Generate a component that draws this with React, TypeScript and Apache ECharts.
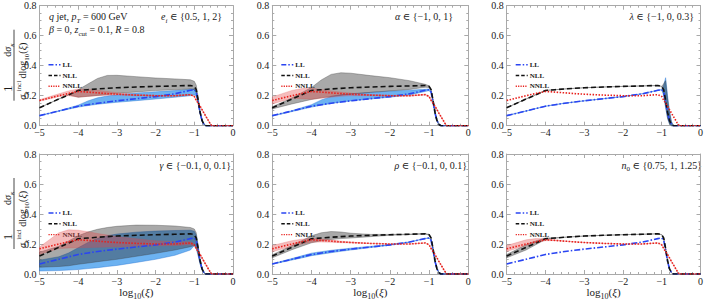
import React, { useEffect, useRef } from 'react';
import * as echarts from 'echarts';

// common abscissa grid, log10(xi)
const xs = [-5, -4.5, -4.25, -4, -3.75, -3.5, -3.25, -3, -2.5, -2, -1.5, -1.1, -1, -0.95, -0.9, -0.85, -0.8, -0.75, -0.7, -0.6, -0.55, 0];

// central curves
const LL = [0.067, 0.098, 0.114, 0.13, 0.14, 0.15, 0.158, 0.166, 0.18, 0.194, 0.213, 0.236, 0.24, 0.225, 0.16, 0.085, 0.035, 0.01, 0, 0, 0, 0];
const NLL = [0.12, 0.178, 0.206, 0.235, 0.24, 0.245, 0.249, 0.253, 0.258, 0.262, 0.265, 0.268, 0.262, 0.24, 0.17, 0.09, 0.035, 0.008, 0, 0, 0, 0];
const NNLL = [0.168, 0.2, 0.215, 0.228, 0.224, 0.219, 0.214, 0.21, 0.204, 0.2, 0.2, 0.207, 0.195, 0.17, 0.15, 0.13, 0.107, 0.084, 0.062, 0.018, 0, 0];

// panel 1: e_i
const blueLo1 = [0.066, 0.096, 0.11, 0.124, 0.134, 0.143, 0.15, 0.156, 0.167, 0.178, 0.19, 0.2, 0.205, 0.2, 0.15, 0.08, 0.03, 0.008, 0, 0, 0, 0];
const blueHi1 = [0.068, 0.1, 0.118, 0.137, 0.165, 0.186, 0.198, 0.206, 0.218, 0.226, 0.234, 0.243, 0.246, 0.23, 0.165, 0.09, 0.038, 0.012, 0, 0, 0, 0];
const grayLo1 = [0.12, 0.178, 0.206, 0.19, 0.196, 0.202, 0.208, 0.215, 0.225, 0.234, 0.24, 0.245, 0.24, 0.22, 0.15, 0.08, 0.03, 0.008, 0, 0, 0, 0];
const grayHi1 = [0.12, 0.178, 0.206, 0.24, 0.278, 0.315, 0.335, 0.336, 0.327, 0.318, 0.312, 0.306, 0.296, 0.27, 0.19, 0.1, 0.04, 0.01, 0, 0, 0, 0];
const redLo1 = [0.163, 0.194, 0.2, 0.19, 0.195, 0.2, 0.203, 0.205, 0.2, 0.197, 0.197, 0.204, 0.192, 0.167, 0.147, 0.127, 0.104, 0.081, 0.06, 0.016, 0, 0];
const redHi1 = [0.173, 0.213, 0.232, 0.245, 0.243, 0.237, 0.228, 0.22, 0.208, 0.203, 0.203, 0.21, 0.198, 0.173, 0.153, 0.133, 0.11, 0.087, 0.064, 0.02, 0, 0];

// panel 2: alpha
const blueLo2 = [0.064, 0.094, 0.109, 0.124, 0.137, 0.148, 0.157, 0.165, 0.178, 0.19, 0.205, 0.228, 0.234, 0.22, 0.155, 0.082, 0.033, 0.009, 0, 0, 0, 0];
const blueHi2 = [0.068, 0.1, 0.12, 0.14, 0.172, 0.195, 0.206, 0.213, 0.222, 0.23, 0.237, 0.243, 0.245, 0.23, 0.165, 0.088, 0.037, 0.011, 0, 0, 0, 0];
const grayLo2 = [0.112, 0.145, 0.16, 0.175, 0.186, 0.195, 0.203, 0.21, 0.222, 0.232, 0.242, 0.256, 0.255, 0.235, 0.165, 0.085, 0.033, 0.008, 0, 0, 0, 0];
const grayHi2 = [0.126, 0.185, 0.22, 0.255, 0.305, 0.342, 0.353, 0.35, 0.334, 0.32, 0.3, 0.276, 0.266, 0.245, 0.175, 0.095, 0.037, 0.009, 0, 0, 0, 0];
const redLo2 = [0.145, 0.183, 0.18, 0.176, 0.183, 0.19, 0.196, 0.2, 0.2, 0.197, 0.197, 0.204, 0.192, 0.167, 0.147, 0.127, 0.104, 0.081, 0.06, 0.016, 0, 0];
const redHi2 = [0.192, 0.235, 0.248, 0.25, 0.242, 0.232, 0.224, 0.218, 0.208, 0.203, 0.203, 0.21, 0.198, 0.173, 0.153, 0.133, 0.11, 0.087, 0.064, 0.02, 0, 0];

// panel 3: lambda
const blueLo3 = [0.067, 0.098, 0.114, 0.13, 0.14, 0.15, 0.158, 0.166, 0.18, 0.194, 0.213, 0.236, 0.24, 0.2, 0.12, 0.05, 0.012, 0, 0, 0, 0, 0];
const blueHi3 = [0.067, 0.098, 0.114, 0.13, 0.14, 0.15, 0.158, 0.166, 0.18, 0.194, 0.213, 0.236, 0.24, 0.27, 0.32, 0.2, 0.1, 0.03, 0, 0, 0, 0];
const grayLo3 = [0.12, 0.178, 0.206, 0.235, 0.24, 0.245, 0.249, 0.253, 0.258, 0.262, 0.265, 0.268, 0.262, 0.21, 0.13, 0.05, 0.012, 0, 0, 0, 0, 0];
const grayHi3 = [0.12, 0.178, 0.206, 0.235, 0.24, 0.245, 0.249, 0.253, 0.258, 0.262, 0.265, 0.268, 0.262, 0.28, 0.3, 0.18, 0.09, 0.025, 0, 0, 0, 0];

// panel 4: gamma
const blueLo4 = [0.02, 0.023, 0.026, 0.03, 0.036, 0.042, 0.05, 0.057, 0.077, 0.098, 0.125, 0.16, 0.19, 0.17, 0.12, 0.065, 0.025, 0.006, 0, 0, 0, 0];
const blueHi4 = [0.092, 0.115, 0.14, 0.175, 0.21, 0.238, 0.255, 0.266, 0.279, 0.286, 0.29, 0.292, 0.285, 0.26, 0.18, 0.095, 0.038, 0.01, 0, 0, 0, 0];
const grayLo4 = [0.045, 0.05, 0.055, 0.065, 0.073, 0.082, 0.09, 0.098, 0.118, 0.138, 0.16, 0.182, 0.19, 0.18, 0.13, 0.07, 0.028, 0.007, 0, 0, 0, 0];
const grayHi4 = [0.145, 0.185, 0.22, 0.255, 0.28, 0.298, 0.31, 0.318, 0.326, 0.325, 0.32, 0.31, 0.3, 0.275, 0.19, 0.1, 0.04, 0.01, 0, 0, 0, 0];
const redLo4 = [0.13, 0.17, 0.173, 0.175, 0.176, 0.178, 0.18, 0.182, 0.185, 0.187, 0.19, 0.195, 0.185, 0.165, 0.145, 0.125, 0.103, 0.08, 0.058, 0.015, 0, 0];
const redHi4 = [0.18, 0.275, 0.295, 0.292, 0.282, 0.27, 0.26, 0.25, 0.235, 0.222, 0.215, 0.215, 0.2, 0.175, 0.155, 0.135, 0.112, 0.088, 0.066, 0.021, 0, 0];

// panel 5: rho
const blueLo5 = [0.065, 0.093, 0.107, 0.122, 0.132, 0.142, 0.151, 0.16, 0.176, 0.192, 0.212, 0.236, 0.24, 0.225, 0.16, 0.085, 0.035, 0.01, 0, 0, 0, 0];
const blueHi5 = [0.069, 0.103, 0.121, 0.139, 0.149, 0.158, 0.165, 0.172, 0.184, 0.196, 0.214, 0.237, 0.241, 0.226, 0.161, 0.086, 0.036, 0.011, 0, 0, 0, 0];
const grayLo5 = [0.108, 0.162, 0.185, 0.208, 0.222, 0.23, 0.236, 0.24, 0.249, 0.258, 0.263, 0.266, 0.26, 0.24, 0.17, 0.09, 0.035, 0.008, 0, 0, 0, 0];
const grayHi5 = [0.128, 0.19, 0.222, 0.255, 0.275, 0.283, 0.28, 0.272, 0.264, 0.264, 0.266, 0.27, 0.264, 0.24, 0.17, 0.09, 0.035, 0.008, 0, 0, 0, 0];
const redLo5 = [0.148, 0.185, 0.2, 0.212, 0.213, 0.212, 0.209, 0.207, 0.203, 0.2, 0.2, 0.207, 0.195, 0.17, 0.15, 0.13, 0.107, 0.084, 0.062, 0.018, 0, 0];
const redHi5 = [0.19, 0.222, 0.232, 0.238, 0.234, 0.227, 0.219, 0.213, 0.205, 0.2, 0.2, 0.207, 0.195, 0.17, 0.15, 0.13, 0.107, 0.084, 0.062, 0.018, 0, 0];

// panel 6: n0
const grayLo6 = [0.108, 0.16, 0.195, 0.23, 0.239, 0.245, 0.249, 0.253, 0.258, 0.262, 0.265, 0.268, 0.262, 0.24, 0.17, 0.09, 0.035, 0.008, 0, 0, 0, 0];
const grayHi6 = [0.13, 0.195, 0.22, 0.24, 0.241, 0.245, 0.249, 0.253, 0.258, 0.262, 0.265, 0.268, 0.262, 0.24, 0.17, 0.09, 0.035, 0.008, 0, 0, 0, 0];
const redLo6 = [0.15, 0.19, 0.208, 0.222, 0.222, 0.219, 0.214, 0.21, 0.204, 0.2, 0.2, 0.207, 0.195, 0.17, 0.15, 0.13, 0.107, 0.084, 0.062, 0.018, 0, 0];
const redHi6 = [0.19, 0.228, 0.236, 0.235, 0.226, 0.219, 0.214, 0.21, 0.204, 0.2, 0.2, 0.207, 0.195, 0.17, 0.15, 0.13, 0.107, 0.084, 0.062, 0.018, 0, 0];

const xTicks = [-5, -4, -3, -2, -1, 0];
const yTicks = [0, 0.2, 0.4, 0.6, 0.8];
const legendNames = ['LL', 'NLL', 'NNLL'];

const FONT = '"Liberation Serif", "DejaVu Serif", serif';
const FRAME = '#a9a9a9';
const TXT = '#1a1a1a';
const BLUE = '#2a45f2';
const BLACK = '#111111';
const RED = '#e8201c';

const BAND_STYLE: Record<string, { fill: string; stroke: string }> = {
  blue: { fill: 'rgba(45,145,235,0.7)', stroke: 'rgba(30,110,210,0.8)' },
  gray: { fill: 'rgba(50,50,50,0.42)', stroke: 'rgba(60,60,60,0.7)' },
  red: { fill: 'rgba(228,70,70,0.36)', stroke: 'rgba(220,70,70,0.45)' },
};

const COL_LEFT = [39.5, 272.3, 506.7];
const COL_W = [193.5, 196, 196];
const ROW_TOP = [5.7, 154];
const ROW_H = 120;

type BandDef = [number[], number[], string];
const panelBands: BandDef[][] = [
  [[blueLo1, blueHi1, 'blue'], [grayLo1, grayHi1, 'gray'], [redLo1, redHi1, 'red']],
  [[blueLo2, blueHi2, 'blue'], [grayLo2, grayHi2, 'gray'], [redLo2, redHi2, 'red']],
  [[blueLo3, blueHi3, 'blue'], [grayLo3, grayHi3, 'gray']],
  [[blueLo4, blueHi4, 'blue'], [grayLo4, grayHi4, 'gray'], [redLo4, redHi4, 'red']],
  [[blueLo5, blueHi5, 'blue'], [grayLo5, grayHi5, 'gray'], [redLo5, redHi5, 'red']],
  [[grayLo6, grayHi6, 'gray'], [redLo6, redHi6, 'red']],
];

const panelLabels = [
  { text: '{i|e}{si|i} ∈ {0.5, 1, 2}', x: 222, y: 16.7 },
  { text: '{i|α} ∈ {−1, 0, 1}', x: 453, y: 16.7 },
  { text: '{i|λ} ∈ {−1, 0, 0.3}', x: 694, y: 16.7 },
  { text: '{i|γ} ∈ {−0.1, 0, 0.1}', x: 231, y: 165 },
  { text: '{i|ρ} ∈ {−0.1, 0, 0.1}', x: 467, y: 165 },
  { text: '{i|n}{s|0} ∈ {0.75, 1, 1.25}', x: 702, y: 165 },
];

const mkRich = (size: number) => {
  const sub = Math.round(size * 0.7);
  const base = { fontFamily: FONT, fill: TXT, color: TXT };
  return {
    r: { ...base, fontSize: size, lineHeight: size + 5, verticalAlign: 'middle' },
    i: { ...base, fontSize: size, fontStyle: 'italic', lineHeight: size + 5, verticalAlign: 'middle' },
    s: { ...base, fontSize: sub, lineHeight: sub, verticalAlign: 'bottom' },
    si: { ...base, fontSize: sub, fontStyle: 'italic', lineHeight: sub, verticalAlign: 'bottom' },
    u: { ...base, fontSize: sub, lineHeight: sub + 3, verticalAlign: 'top' },
  };
};

const fmtX = (v: number) => (v < 0 ? '\u2212' + Math.abs(v) : String(v));

export default function App() {
  const ref = useRef<HTMLDivElement>(null);
  useEffect(() => {
    if (!ref.current) return;
    const chart = echarts.init(ref.current, null, { renderer: 'svg' });
    const lineStyle = { color: FRAME, width: 1 };
    const grids: any[] = [];
    const xAxes: any[] = [];
    const yAxes: any[] = [];
    const series: any[] = [];
    const elements: any[] = [];

    for (let p = 0; p < 6; p++) {
      const row = Math.floor(p / 3);
      const col = p % 3;
      const left = COL_LEFT[col];
      const top = ROW_TOP[row];
      grids.push({ left, top, width: COL_W[col], height: ROW_H, containLabel: false });
      const common = {
        gridIndex: p,
        axisLine: { show: true, onZero: false, lineStyle },
        axisTick: { show: true, inside: true, length: 4, lineStyle },
        splitLine: { show: false },
      };
      xAxes.push({
        ...common, type: 'value', position: 'bottom', min: xTicks[0], max: xTicks[xTicks.length - 1], interval: 1,
        minorTick: { show: true, splitNumber: 5, length: 2, lineStyle },
        axisLabel: { show: true, margin: 2, fontSize: 10, fontFamily: FONT, color: TXT, formatter: fmtX },
        name: row === 1 ? '{r|log}{s|10}{r|(}{i|ξ}{r|)}' : '',
        nameLocation: 'middle', nameGap: 8,
        nameTextStyle: { fontFamily: FONT, fontSize: 11, color: TXT, rich: mkRich(11) },
      });
      xAxes.push({
        ...common, type: 'value', position: 'top', min: xTicks[0], max: xTicks[xTicks.length - 1], interval: 1,
        minorTick: { show: true, splitNumber: 5, length: 2, lineStyle },
        axisLabel: { show: false },
      });
      yAxes.push({
        ...common, type: 'value', position: 'left', min: yTicks[0], max: yTicks[yTicks.length - 1], interval: 0.2,
        minorTick: { show: true, splitNumber: 4, length: 2, lineStyle },
        axisLabel: { show: true, margin: 3, fontSize: 10, fontFamily: FONT, color: TXT, formatter: (v: number) => v.toFixed(1) },
      });
      yAxes.push({
        ...common, type: 'value', position: 'right', min: yTicks[0], max: yTicks[yTicks.length - 1], interval: 0.2,
        minorTick: { show: true, splitNumber: 4, length: 2, lineStyle },
        axisLabel: { show: false },
      });

      for (const [lo, hi, kind] of panelBands[p]) {
        const st = BAND_STYLE[kind];
        series.push({
          type: 'custom', xAxisIndex: 2 * p, yAxisIndex: 2 * p, silent: true, z: 2,
          data: xs.map((x, i) => [x, lo[i], hi[i]]),
          encode: { x: 0, y: [1, 2] },
          renderItem: (params: any, api: any) => {
            if (params.dataIndex !== 0) return null;
            const pts: number[][] = [];
            for (let i = 0; i < xs.length; i++) pts.push(api.coord([xs[i], hi[i]]));
            for (let i = xs.length - 1; i >= 0; i--) pts.push(api.coord([xs[i], lo[i]]));
            return { type: 'polygon', shape: { points: pts }, style: { fill: st.fill, stroke: st.stroke, lineWidth: 0.5 } };
          },
        });
      }
      const lines: [number[], string, any, number][] = [
        [LL, BLUE, [6, 2, 1.5, 2], 1.6],
        [NLL, BLACK, [5, 3], 1.6],
        [NNLL, RED, [1.5, 1.5], 1.6],
      ];
      for (const [ys, color, type, width] of lines) {
        series.push({
          type: 'line', xAxisIndex: 2 * p, yAxisIndex: 2 * p, silent: true, z: 3,
          data: xs.map((x, i) => [x, ys[i]]),
          symbol: 'none', showSymbol: false,
          lineStyle: { color, width, type },
        });
      }

      // legend
      const lx = left + 9;
      const ly = top + 59;
      const legStyles = [
        { color: BLUE, dash: [5, 2, 1.5, 2] },
        { color: BLACK, dash: [3.5, 2] },
        { color: RED, dash: [1.2, 1.2] },
      ];
      legendNames.forEach((name, j) => {
        const y = ly + 10.8 * j;
        elements.push({
          type: 'line', silent: true,
          shape: { x1: lx, y1: y, x2: lx + 12, y2: y },
          style: { stroke: legStyles[j].color, lineWidth: 1.4, lineDash: legStyles[j].dash },
        });
        elements.push({
          type: 'text', silent: true, x: lx + 14, y,
          style: { text: name, fontFamily: FONT, fontSize: 7, fontWeight: 'bold', fill: TXT, align: 'left', verticalAlign: 'middle' },
        });
      });

      const lab = panelLabels[p];
      elements.push({
        type: 'text', silent: true, x: lab.x, y: lab.y,
        style: { text: lab.text, rich: mkRich(10), fontFamily: FONT, fontSize: 10, lineHeight: 15, fill: TXT, align: 'right', verticalAlign: 'middle' },
      });
    }

    elements.push({
      type: 'text', silent: true, x: 49, y: 16.7,
      style: { text: '{i|q} jet, {i|p}{si|T} = 600 GeV', rich: mkRich(10), fontFamily: FONT, fontSize: 10, lineHeight: 15, fill: TXT, align: 'left', verticalAlign: 'middle' },
    });
    elements.push({
      type: 'text', silent: true, x: 49, y: 29.5,
      style: { text: '{i|β} = 0, {i|z}{s|cut} = 0.1, {i|R} = 0.8', rich: mkRich(10), fontFamily: FONT, fontSize: 10, lineHeight: 15, fill: TXT, align: 'left', verticalAlign: 'middle' },
    });

    // rotated y-axis title, built from separate elements (each rotated about its own anchor)
    const R = Math.PI / 2;
    const addYLabel = (cy: number) => {
      elements.push({ type: 'text', silent: true, x: 7, y: cy + 23, rotation: R,
        style: { text: '1', fontFamily: FONT, fontSize: 13, fill: TXT, align: 'center', verticalAlign: 'middle' } });
      elements.push({ type: 'text', silent: true, x: 7.5, y: cy - 9, rotation: R,
        style: { text: '{r|d}{i|σ}{si|κ}', rich: mkRich(10), fontFamily: FONT, fontSize: 10, fill: TXT, align: 'left', verticalAlign: 'middle' } });
      elements.push({ type: 'line', silent: true, shape: { x1: 14, y1: cy + 35, x2: 14, y2: cy - 36 }, style: { stroke: TXT, lineWidth: 0.8 } });
      elements.push({ type: 'text', silent: true, x: 22.5, y: cy + 34, rotation: R,
        style: { text: '{i|σ}{si|κ}{u|incl}{r| dlog}{s|10}{r|(}{i|ξ}{r|)}', rich: mkRich(10), fontFamily: FONT, fontSize: 10, fill: TXT, align: 'left', verticalAlign: 'middle' } });
    };
    addYLabel(ROW_TOP[0] + ROW_H / 2);
    addYLabel(ROW_TOP[1] + ROW_H / 2);

    chart.setOption({
      animation: false,
      backgroundColor: '#ffffff',
      grid: grids,
      xAxis: xAxes,
      yAxis: yAxes,
      series,
      graphic: { elements },
    });
    return () => chart.dispose();
  }, []);
  return <div ref={ref} style={{ position: 'absolute', left: 0, top: 0, width: 706, height: 303 }} />;
}
